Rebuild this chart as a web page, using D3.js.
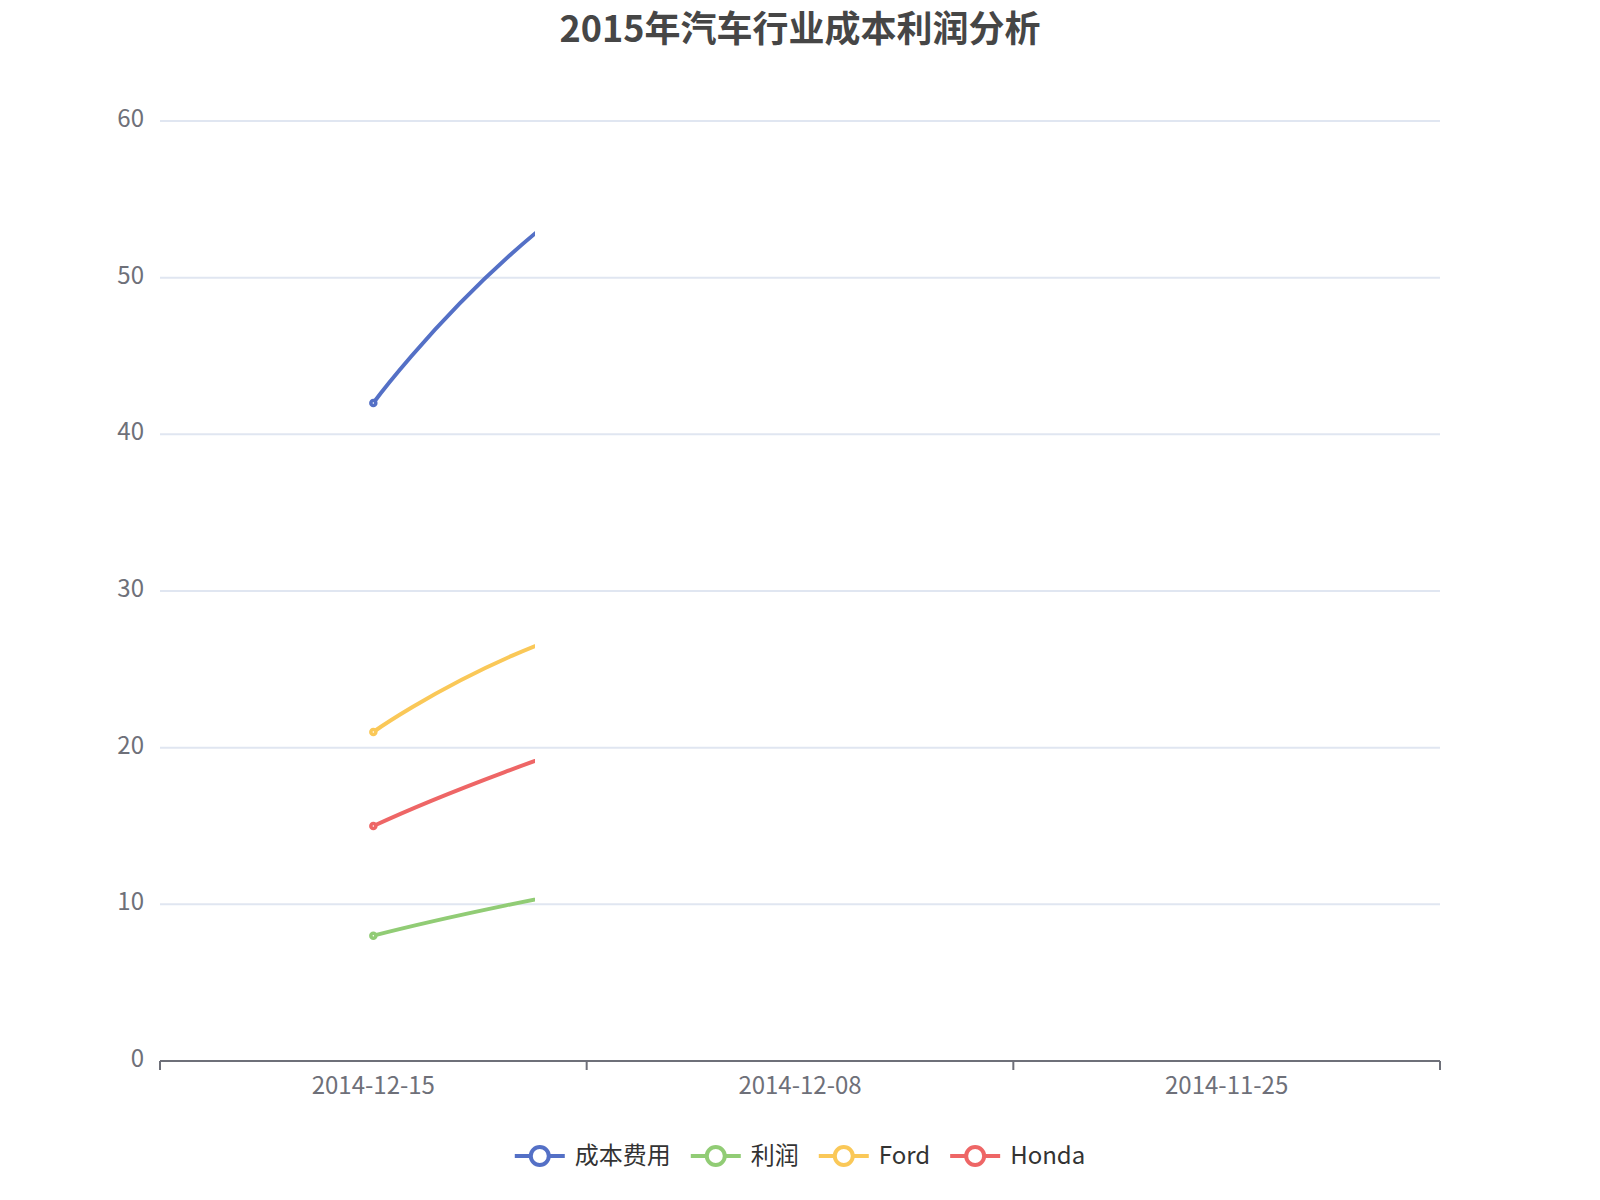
<!DOCTYPE html>
<html lang="zh">
  <head>
    <meta charset="utf-8" />
    <title>2015年汽车行业成本利润分析</title>
    <script src="https://cdn.jsdelivr.net/npm/d3@7/dist/d3.min.js"></script>
    <style>
      body { margin: 0; background: #fff; }
      text { font-family: "Noto Sans CJK SC", "Noto Sans", sans-serif; }
    </style>
  </head>
  <body>
    <script>
// data
var categories = ["2014-12-15", "2014-12-08", "2014-11-25"];
var seriesNames = ["成本费用", "利润", "Ford", "Honda"];
var costValues = [42, 60, 37];
var profitValues = [8, 13, 14];
var fordValues = [21, 29, 11];
var hondaValues = [15, 24, 26];
var yTicks = [0, 10, 20, 30, 40, 50, 60];
var colors = ["#5470c6", "#91cc75", "#fac858", "#ee6666"];

var w = 1600, h = 1200;
var grid = { left: 160, right: 1440, top: 121, bottom: 1061 };
var reveal = 0.293; // share of the grid the line animation has uncovered

var allSeries = [costValues, profitValues, fordValues, hondaValues].map(function(v, i) {
  return { name: seriesNames[i], values: v, color: colors[i] };
});

var svg = d3.select("body").append("svg")
  .attr("width", w)
  .attr("height", h);

var x = d3.scaleBand()
  .domain(categories)
  .range([grid.left, grid.right]);
var y = d3.scaleLinear()
  .domain([0, 60])
  .range([grid.bottom, grid.top]);
function cx(c) { return x(c) + x.bandwidth() / 2; }

// title
svg.append("text")
  .attr("x", w / 2)
  .attr("y", 42)
  .attr("text-anchor", "middle")
  .attr("font-size", "36px")
  .attr("font-weight", "bold")
  .attr("fill", "#464646")
  .text("2015年汽车行业成本利润分析");

// grid lines + y labels
svg.append("g").selectAll("line")
  .data(yTicks.filter(function(d) { return d > 0; }))
  .enter().append("line")
  .attr("x1", grid.left).attr("x2", grid.right)
  .attr("y1", function(d) { return y(d); })
  .attr("y2", function(d) { return y(d); })
  .attr("stroke", "#E0E6F1")
  .attr("stroke-width", 2);

svg.append("g").selectAll("text")
  .data(yTicks)
  .enter().append("text")
  .attr("x", grid.left - 16)
  .attr("y", function(d) { return y(d) + 6; })
  .attr("text-anchor", "end")
  .attr("font-size", "24px")
  .attr("fill", "#6E7079")
  .text(function(d) { return d; });

// x axis
var xAxis = svg.append("g");
xAxis.append("line")
  .attr("x1", grid.left).attr("x2", grid.right)
  .attr("y1", grid.bottom).attr("y2", grid.bottom)
  .attr("stroke", "#6E7079")
  .attr("stroke-width", 2);
var boundaries = categories.map(function(c) { return x(c); }).concat([x(categories[categories.length - 1]) + x.bandwidth()]);
xAxis.selectAll("line.tick")
  .data(boundaries)
  .enter().append("line")
  .attr("class", "tick")
  .attr("x1", function(d) { return d; })
  .attr("x2", function(d) { return d; })
  .attr("y1", grid.bottom).attr("y2", grid.bottom + 9)
  .attr("stroke", "#6E7079")
  .attr("stroke-width", 2);
xAxis.selectAll("text")
  .data(categories)
  .enter().append("text")
  .attr("x", function(d) { return cx(d); })
  .attr("y", grid.bottom + 33)
  .attr("text-anchor", "middle")
  .attr("font-size", "24px")
  .attr("fill", "#6E7079")
  .text(function(d) { return d; });

// smooth line like echarts (smooth 0.5)
function smoothPath(pts, smooth) {
  var p = d3.path();
  p.moveTo(pts[0][0], pts[0][1]);
  var cp0 = pts[0];
  for (var i = 1; i < pts.length; i++) {
    var cur = pts[i], prev = pts[i - 1], next = pts[i + 1];
    var cp1, nextCp0;
    if (!next) {
      cp1 = cur;
    } else {
      var vx = next[0] - prev[0], vy = next[1] - prev[1];
      var lenPrev = Math.hypot(cur[0] - prev[0], cur[1] - prev[1]);
      var lenNext = Math.hypot(next[0] - cur[0], next[1] - cur[1]);
      var ratio = lenNext / (lenNext + lenPrev);
      cp1 = [cur[0] - vx * smooth * (1 - ratio), cur[1] - vy * smooth * (1 - ratio)];
      nextCp0 = [cur[0] + vx * smooth * ratio, cur[1] + vy * smooth * ratio];
    }
    p.bezierCurveTo(cp0[0], cp0[1], cp1[0], cp1[1], cur[0], cur[1]);
    cp0 = nextCp0;
  }
  return p.toString();
}

svg.append("clipPath")
  .attr("id", "reveal")
  .append("rect")
  .attr("x", grid.left - 10)
  .attr("y", 0)
  .attr("width", (grid.right - grid.left) * reveal + 10)
  .attr("height", h);

var plot = svg.append("g").attr("clip-path", "url(#reveal)");
var seriesG = plot.selectAll("g.series")
  .data(allSeries)
  .enter().append("g")
  .attr("class", "series");

seriesG.append("path")
  .attr("d", function(s) {
    return smoothPath(s.values.map(function(v, i) { return [cx(categories[i]), y(v)]; }), 0.5);
  })
  .attr("fill", "none")
  .attr("stroke", function(s) { return s.color; })
  .attr("stroke-width", 4)
  .attr("stroke-linejoin", "round");

seriesG.selectAll("circle")
  .data(function(s) { return s.values.map(function(v, i) { return { v: v, i: i, color: s.color }; }); })
  .enter().append("circle")
  .attr("cx", function(d) { return cx(categories[d.i]); })
  .attr("cy", function(d) { return y(d.v); })
  .attr("r", 2.5)
  .attr("fill", "#fff")
  .attr("stroke", function(d) { return d.color; })
  .attr("stroke-width", 3.5);

// legend
var legend = svg.append("g");
var items = legend.selectAll("g")
  .data(allSeries)
  .enter().append("g");
items.append("line")
  .attr("x1", 0).attr("x2", 50)
  .attr("y1", 0).attr("y2", 0)
  .attr("stroke", function(s) { return s.color; })
  .attr("stroke-width", 4);
items.append("circle")
  .attr("cx", 25).attr("cy", 0)
  .attr("r", 9)
  .attr("fill", "#fff")
  .attr("stroke", function(s) { return s.color; })
  .attr("stroke-width", 4);
items.append("text")
  .attr("x", 60)
  .attr("y", 8)
  .attr("font-size", "24px")
  .attr("fill", "#333")
  .text(function(s) { return s.name; });

var offs = [], total = 0;
items.each(function(s, i) {
  var tw = this.querySelector("text").getComputedTextLength();
  offs.push(total);
  total += 60 + tw + (i < allSeries.length - 1 ? 20 : 0);
});
items.attr("transform", function(s, i) {
  return "translate(" + (w / 2 - total / 2 + offs[i]) + ",1156)";
});
    </script>
  </body>
</html>
